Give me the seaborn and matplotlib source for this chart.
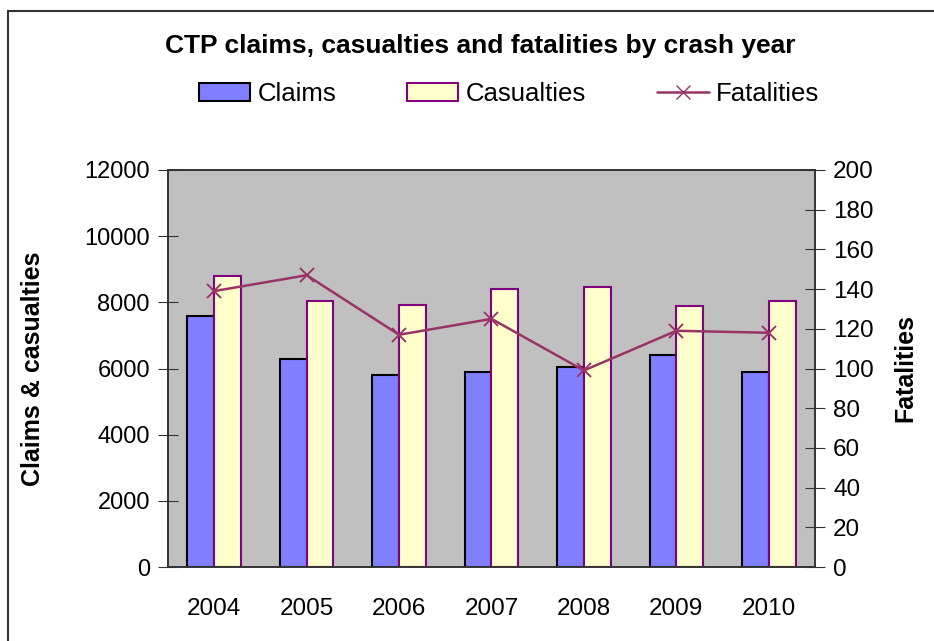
import numpy as np
import pandas as pd
import seaborn as sns
import matplotlib.pyplot as plt
from matplotlib.patches import Patch, Rectangle
from matplotlib.lines import Line2D

years = ["2004", "2005", "2006", "2007", "2008", "2009", "2010"]
claims = [7580, 6290, 5810, 5880, 6050, 6410, 5880]
casualties = [8790, 8050, 7930, 8410, 8470, 7880, 8050]
fatalities = [139, 147, 117, 125, 99, 119, 118]

sns.set_style("white")
plt.rcParams["font.family"] = ["Liberation Sans", "DejaVu Sans"]
plt.rcParams["text.color"] = "black"
plt.rcParams["axes.labelcolor"] = "black"
plt.rcParams["xtick.color"] = "black"
plt.rcParams["ytick.color"] = "black"

df = pd.DataFrame({
    "year": years * 2,
    "value": claims + casualties,
    "series": ["Claims"] * len(years) + ["Casualties"] * len(years),
})

fig = plt.figure(figsize=(9.34, 6.41), dpi=100)
ax = fig.add_axes([168 / 934, 1 - 567 / 641, (815 - 168) / 934, (567 - 170) / 641])

# border around the whole chart (right/bottom edges fall off the canvas)
fig.patches.append(Rectangle((8 / 934, -0.1), 1.2, 1.1 - 11 / 641, transform=fig.transFigure,
                             fill=False, edgecolor="#333333", linewidth=1.5))

sns.barplot(data=df, x="year", y="value", hue="series",
            palette={"Claims": "#8080FF", "Casualties": "#FFFFCC"},
            width=0.58, saturation=1, ax=ax, legend=False)
for cont, ec in zip(ax.containers, ["black", "#800080"]):
    for bar in cont:
        bar.set_edgecolor(ec)
        bar.set_linewidth(1.5)

ax.set_facecolor("#C0C0C0")
ax.set_ylim(0, 12000)
ax.set_yticks(np.arange(0, 12001, 2000))
ax.set_xlim(-0.5, len(years) - 0.5)
ax.set_xlabel("")
ax.set_ylabel("Claims & casualties", fontsize=18, fontweight="bold", labelpad=28)
ax.set_xticks(np.arange(len(years)), years, minor=False)
ax.tick_params(axis="x", which="major", length=0, labelsize=17.5, pad=22)
ax.set_xticks(np.arange(0.5, len(years) - 0.5, 1), minor=True)
ax.tick_params(axis="x", which="minor", direction="inout", length=14, color="#333333")
ax.tick_params(axis="y", direction="inout", length=14, labelsize=17, pad=6, color="#333333")
for s in ax.spines.values():
    s.set_color("#333333")
    s.set_linewidth(1.2)

ax2 = ax.twinx()
sns.pointplot(x=years, y=fatalities, color="#993366", markers="x", linestyles="-",
              markersize=10, linewidth=1.8, ax=ax2)
ax2.set_ylim(0, 200)
ax2.set_yticks(np.arange(0, 201, 20))
ax2.set_ylabel("Fatalities", fontsize=18, fontweight="bold", labelpad=14)
ax2.tick_params(axis="y", direction="inout", length=14, labelsize=17.5, pad=6, color="#333333")
for s in ax2.spines.values():
    s.set_color("#333333")
    s.set_linewidth(1.2)

fig.text(0.514, 1 - 46 / 641, "CTP claims, casualties and fatalities by crash year",
         ha="center", va="center", fontsize=19, fontweight="bold")

handles = [
    Patch(facecolor="#8080FF", edgecolor="black", linewidth=1.5, label="Claims"),
    Patch(facecolor="#FFFFCC", edgecolor="#800080", linewidth=1.5, label="Casualties"),
    Line2D([], [], color="#993366", marker="x", markersize=10, linewidth=1.8, label="Fatalities"),
]
fig.legend(handles=handles, loc="center", bbox_to_anchor=(0.545, 1 - 94 / 641), ncol=3,
           frameon=False, fontsize=18.5, handlelength=2.0, handleheight=0.65,
           handletextpad=0.3, columnspacing=2.75)

fig.savefig("out.png", dpi=100)
